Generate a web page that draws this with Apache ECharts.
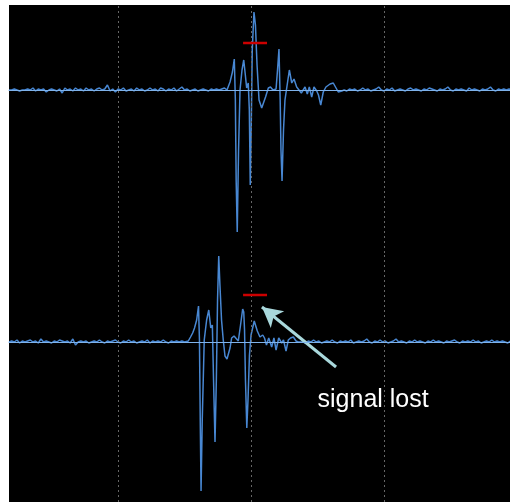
<!DOCTYPE html>
<html>
<head>
<meta charset="utf-8">
<style>
  html, body { margin: 0; padding: 0; background: #fff; }
  #main { width: 510px; height: 502px; }
</style>
<script src="https://cdn.jsdelivr.net/npm/echarts@6/dist/echarts.min.js"></script>
</head>
<body>
<div id="main"></div>
<script>
// Two ultrasonic echo traces (time in µs, amplitude in arbitrary units).
// Quiet stretches are stored as evenly sampled values; the echo bursts as [t, v] pairs.
const DT = 0.2;

const topLeadStart = 1.8;
const topLead = [
  0, 0, 0.01, 0, -0.01, 0, 0, 0.01, 0, 0.02,
  -0.01, 0.01, 0, 0.01, -0.02, 0, 0.01, 0, -0.01, 0.01,
  -0.03, 0.02, 0, 0.01, -0.01, 0.02, 0, 0.01, -0.01, 0.02,
  0, 0.01, -0.01, 0.01, 0.02, 0, 0.01, 0.05, -0.01, 0.01,
  -0.02, 0.01, 0, 0.02, -0.01, 0, 0.01, -0.01, 0.02, 0,
  0.01, -0.01, 0, 0.02, 0, 0.01, -0.01, 0.02, 0.01, -0.01,
  0.01, 0, 0.02, -0.01, 0.01, 0.03, 0, 0.01, -0.01, 0,
  0.01, -0.01, 0, 0.01, 0, -0.01, 0.01, 0, 0.01, 0,
  0.01, 0.02
];
const topBurst = [
  [18.19, 0], [18.42, 0.08], [18.60, 0.18], [18.74, 0.31], [18.82, -0.10],
  [18.88, -0.90], [18.96, -1.42], [19.06, -0.60], [19.17, 0], [19.32, 0.20],
  [19.45, 0.30], [19.57, 0.15], [19.67, 0.02], [19.79, 0.07], [19.87, -0.20],
  [19.94, -0.95], [20.02, -0.30], [20.09, 0.40], [20.22, 0.78], [20.33, 0.65],
  [20.45, 0.25], [20.60, -0.10], [20.80, -0.18], [20.93, -0.16], [21.09, -0.07],
  [21.30, 0.02], [21.46, 0.03], [21.65, 0], [21.88, 0.01], [21.99, 0.20],
  [22.10, 0.41], [22.19, -0.10], [22.25, -0.60], [22.33, -0.91], [22.44, -0.40],
  [22.55, -0.10], [22.66, 0], [22.88, 0.20], [23.06, 0.07], [23.23, 0.11],
  [23.43, 0.03], [23.58, 0.05], [23.78, -0.03], [23.88, -0.03], [24.06, 0.03],
  [24.23, -0.04], [24.38, 0.03], [24.56, -0.07], [24.73, 0.03], [24.94, -0.01],
  [25.07, -0.05], [25.24, -0.15], [25.43, -0.02], [25.63, 0.03], [25.78, 0.05],
  [25.94, 0.06], [26.06, 0.08], [26.18, 0.07], [26.39, 0.02], [26.56, -0.02],
  [26.82, -0.01]
];
const topTailStart = 27.0;
const topTail = [
  0, -0.01, 0.01, 0, 0.01, -0.01, 0, 0.02, 0, 0.01,
  -0.01, 0, 0.01, 0.03, 0, -0.01, 0.01, 0, 0.02, -0.01,
  0, 0.01, 0, -0.01, 0.01, 0.02, 0, 0.01, 0, -0.01,
  0.01, 0, 0.02, 0.01, 0, -0.01, 0.01, 0, 0.01, 0.03,
  0, -0.01, 0.01, 0, 0.01, 0, -0.01, 0.02, 0, 0.01,
  0, -0.01, 0.01, 0, 0.01, 0.03, 0, -0.01, 0.01, 0,
  0.01, 0, 0.01, 0
];

const bottomLeadStart = 1.8;
const bottomLead = [
  0, 0.01, 0, 0.02, -0.01, 0.01, 0, 0.01, 0.02, 0,
  0.01, -0.01, 0.03, 0, 0.01, 0, -0.01, 0.01, 0, 0.02,
  0.01, 0, 0.01, -0.01, 0.03, -0.03, 0, 0.01, 0, 0.01,
  -0.01, 0, 0.01, 0, 0.02, 0, -0.01, 0.01, 0, 0.01,
  0.02, 0, -0.01, 0.01, 0, 0.02, 0, 0.01, -0.01, 0,
  0.01, 0, 0.02, -0.01, 0.01, 0, 0.01, 0, 0.02, 0,
  -0.01, 0.01, 0, 0.01, 0, 0.01, 0
];
const bottomBurst = [
  [15.11, 0], [15.28, 0.01], [15.45, 0.05], [15.61, 0.09], [15.75, 0.14],
  [15.91, 0.22], [16.05, 0.36], [16.12, 0.02], [16.18, -0.78], [16.24, -1.49],
  [16.33, -0.78], [16.48, 0.02], [16.66, 0.22], [16.82, 0.32], [16.97, 0.14],
  [17.09, 0.17], [17.18, -0.38], [17.29, -1.00], [17.39, -0.38], [17.48, 0.42],
  [17.57, 0.86], [17.66, 0.57], [17.78, 0.22], [17.91, 0.02], [18.04, -0.14],
  [18.19, -0.17], [18.30, -0.16], [18.42, -0.06], [18.54, 0.04], [18.72, 0.06],
  [18.87, 0.04], [19.04, 0.01], [19.21, 0.17], [19.37, 0.33], [19.45, 0.30],
  [19.51, 0.12], [19.58, -0.38], [19.68, -0.86], [19.77, -0.58], [19.88, -0.13],
  [20.00, 0.07], [20.24, 0.21], [20.47, 0.11], [20.67, 0.05], [20.88, 0.07],
  [21.01, 0.04], [21.16, -0.03], [21.33, 0.04], [21.55, -0.05], [21.72, 0.04],
  [21.88, -0.08], [22.08, 0.04], [22.30, -0.01], [22.44, 0.02], [22.63, -0.09],
  [22.80, 0.02], [22.97, 0.04], [23.18, 0.05], [23.38, 0.01], [23.55, 0]
];
const bottomTailStart = 23.7;
const bottomTail = [
  0.01, 0, -0.01, 0.01, 0, 0.02, 0, 0.01, -0.01, 0,
  0.01, 0, 0.02, 0, -0.01, 0.01, 0, 0.01, 0, 0.02,
  -0.01, 0, 0.01, 0, 0.01, 0.03, 0, -0.01, 0.01, 0,
  0.02, 0, 0.01, -0.01, 0, 0.01, 0.03, 0, 0.01, 0,
  -0.01, 0.01, 0, 0.02, 0, 0.01, 0, -0.01, 0.01, 0,
  0.02, 0, 0.01, 0, -0.01, 0.01, 0, 0.01, 0.02, 0,
  -0.01, 0.01, 0, 0.01, 0, 0.02, 0, 0.01, -0.01, 0,
  0.01, 0, 0.02, 0, 0.01, 0, 0.01, 0, -0.01, 0.01, 0
];

// Time gridlines (µs) and the detection gate (start, end, level)
const timeMarks = [10, 20, 30];
const gateWindow = [19.4, 21.2];
const gateLevel = 0.47;

function sampled(start, values) {
  return values.map((v, i) => [+(start + i * DT).toFixed(3), v]);
}
const topTrace = sampled(topLeadStart, topLead).concat(topBurst, sampled(topTailStart, topTail));
const bottomTrace = sampled(bottomLeadStart, bottomLead).concat(bottomBurst, sampled(bottomTailStart, bottomTail));
const gate = gateWindow.map(t => [t, gateLevel]);

const TRACE = '#4887d2';
const ZERO = '#7fb2ea';

const gridMarks = {
  silent: true,
  symbol: 'none',
  label: { show: false },
  lineStyle: { color: '#666666', width: 1, type: [2, 3] },
  data: timeMarks.map(t => ({ xAxis: t }))
};

function xAxisFor(i) {
  return {
    gridIndex: i, type: 'value', min: 1.8, max: 39.47, z: 5,
    axisLine: { show: true, onZero: true, lineStyle: { color: ZERO, width: 1 } },
    axisTick: { show: false }, axisLabel: { show: false }, splitLine: { show: false }
  };
}

const chart = echarts.init(document.getElementById('main'), null, { renderer: 'canvas' });
const option = {
  backgroundColor: '#fff',
  animation: false,
  grid: [
    { left: 9, top: 5, width: 501, height: 248, show: true, backgroundColor: '#000', borderWidth: 0 },
    { left: 9, top: 253, width: 501, height: 249, show: true, backgroundColor: '#000', borderWidth: 0 }
  ],
  xAxis: [xAxisFor(0), xAxisFor(1)],
  yAxis: [
    { gridIndex: 0, type: 'value', min: -1.63, max: 0.85, show: false },
    { gridIndex: 1, type: 'value', min: -1.60, max: 0.89, show: false }
  ],
  series: [
    {
      type: 'line', xAxisIndex: 0, yAxisIndex: 0, data: topTrace,
      showSymbol: false, symbol: 'none',
      lineStyle: { color: TRACE, width: 1.5 },
      markLine: gridMarks
    },
    {
      type: 'line', xAxisIndex: 1, yAxisIndex: 1, data: bottomTrace,
      showSymbol: false, symbol: 'none',
      lineStyle: { color: TRACE, width: 1.5 },
      markLine: gridMarks
    },
    {
      type: 'line', xAxisIndex: 0, yAxisIndex: 0, data: gate, z: 6,
      symbol: 'none', lineStyle: { color: '#cc0000', width: 2.5 }
    },
    {
      type: 'line', xAxisIndex: 1, yAxisIndex: 1, data: gate, z: 6,
      symbol: 'none', lineStyle: { color: '#cc0000', width: 2.5 },
      markLine: {
        silent: true,
        symbol: ['none', 'arrow'],
        symbolSize: [16, 20],
        label: { show: false },
        lineStyle: { color: '#a9d8dc', width: 3, type: 'solid' },
        data: [[{ coord: [26.39, -0.25] }, { coord: [20.82, 0.35] }]]
      }
    }
  ]
};
chart.setOption(option);

// Annotation text anchored in the lower trace's coordinates
const anchor = chart.convertToPixel({ xAxisIndex: 1, yAxisIndex: 1 }, [25.0, -0.58]);
chart.setOption({
  graphic: [{
    type: 'text', x: anchor[0], y: anchor[1], z: 10,
    style: {
      text: 'signal lost', fill: '#ffffff',
      font: '25px "Liberation Sans", Arial, sans-serif',
      align: 'left', verticalAlign: 'middle'
    }
  }]
});
</script>
</body>
</html>
